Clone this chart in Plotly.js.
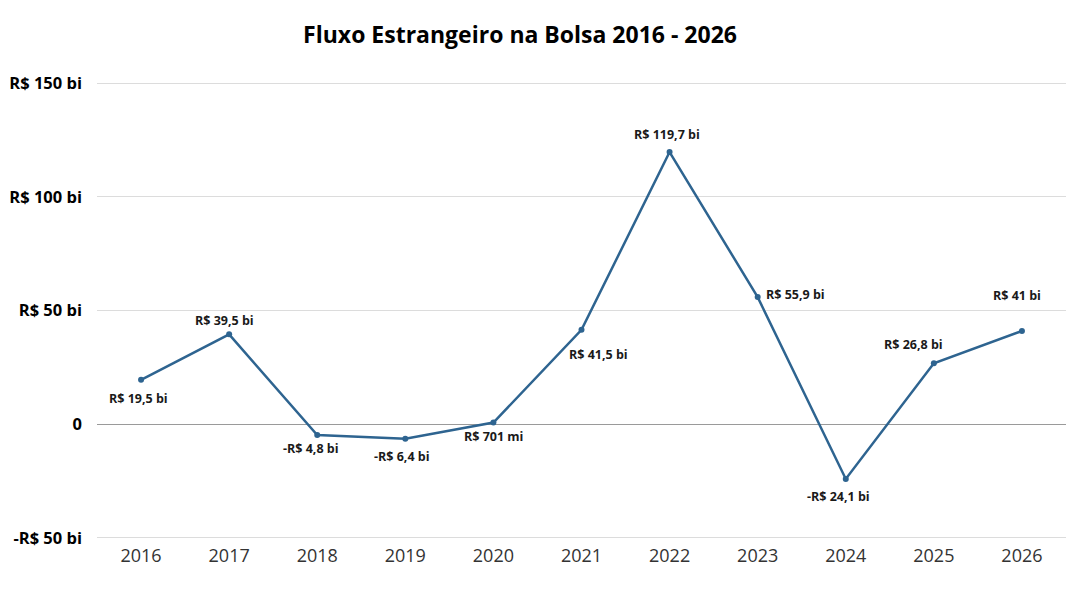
<!DOCTYPE html>
<html>
<head>
<meta charset="utf-8">
<script src="https://cdn.plot.ly/plotly-3.0.1.min.js"></script>
<style>
  html, body { margin: 0; padding: 0; background: #fff; }
  #chart { width: 1080px; height: 608px; }
</style>
</head>
<body>
<div id="chart"></div>
<script>
// dados: fluxo estrangeiro anual (R$ bilhões)
var anos = ['2016', '2017', '2018', '2019', '2020', '2021', '2022', '2023', '2024', '2025', '2026'];
var fluxo = [19.5, 39.5, -4.8, -6.4, 0.701, 41.5, 119.7, 55.9, -24.1, 26.8, 41];
var rotulos = ['R$ 19,5 bi', 'R$ 39,5 bi', '-R$ 4,8 bi', '-R$ 6,4 bi', 'R$ 701 mi', 'R$ 41,5 bi',
               'R$ 119,7 bi', 'R$ 55,9 bi', '-R$ 24,1 bi', 'R$ 26,8 bi', 'R$ 41 bi'];
var yTicks = [-50, 0, 50, 100, 150];
var yTickText = ['-R$ 50 bi', '0', 'R$ 50 bi', 'R$ 100 bi', 'R$ 150 bi'];

// deslocamento dos rótulos em pixels
var dx = [-3, -5, -6, -3, 0, 17, -3, 38, -7, -20, -5];
var dy = [-19, 14, -13, -18, -14, -25, 18, 3, -18, 19, 35];

var cor = '#2e6490';

var trace = {
    x: anos,
    y: fluxo,
    type: 'scatter',
    mode: 'lines+markers',
    line: {color: cor, width: 2.5},
    marker: {color: cor, size: 6},
    hoverinfo: 'skip'
};

// no eixo de categorias a anotação usa o índice da categoria
var annotations = [];
for (var i = 0; i < anos.length; i++) {
    annotations.push({
        x: i,
        y: fluxo[i],
        xref: 'x',
        yref: 'y',
        text: '<b>' + rotulos[i] + '</b>',
        showarrow: false,
        xshift: dx[i],
        yshift: dy[i],
        font: {family: 'Open Sans, sans-serif', size: 12.5, color: '#1a1a1a'}
    });
}

var layout = {
    width: 1080,
    height: 608,
    paper_bgcolor: '#fff',
    plot_bgcolor: '#fff',
    showlegend: false,
    margin: {l: 97, r: 14, t: 82, b: 69},
    title: {
        text: '<b>Fluxo Estrangeiro na Bolsa 2016 - 2026</b>',
        x: 0.4815,
        xanchor: 'center',
        y: 0.955,
        font: {family: 'Open Sans, sans-serif', size: 23, color: '#000'}
    },
    xaxis: {
        type: 'category',
        range: [-0.5, 10.5],
        showgrid: false,
        zeroline: false,
        showline: false,
        ticks: '',
        ticklabelstandoff: 4,
        tickfont: {family: 'Open Sans, sans-serif', size: 18, color: '#333'},
        fixedrange: true
    },
    yaxis: {
        range: [-50.5, 150.5],
        tickmode: 'array',
        tickvals: yTicks,
        ticktext: yTickText,
        showgrid: true,
        gridcolor: '#dcdcdc',
        gridwidth: 1,
        zeroline: true,
        zerolinecolor: '#9a9a9a',
        zerolinewidth: 1,
        showline: false,
        ticks: '',
        ticklabelstandoff: 14,
        tickfont: {family: 'Open Sans, sans-serif', size: 16.5, color: '#000', weight: 'bold'},
        fixedrange: true
    },
    annotations: annotations
};

Plotly.newPlot('chart', [trace], layout, {displayModeBar: false, staticPlot: true});
</script>
</body>
</html>
